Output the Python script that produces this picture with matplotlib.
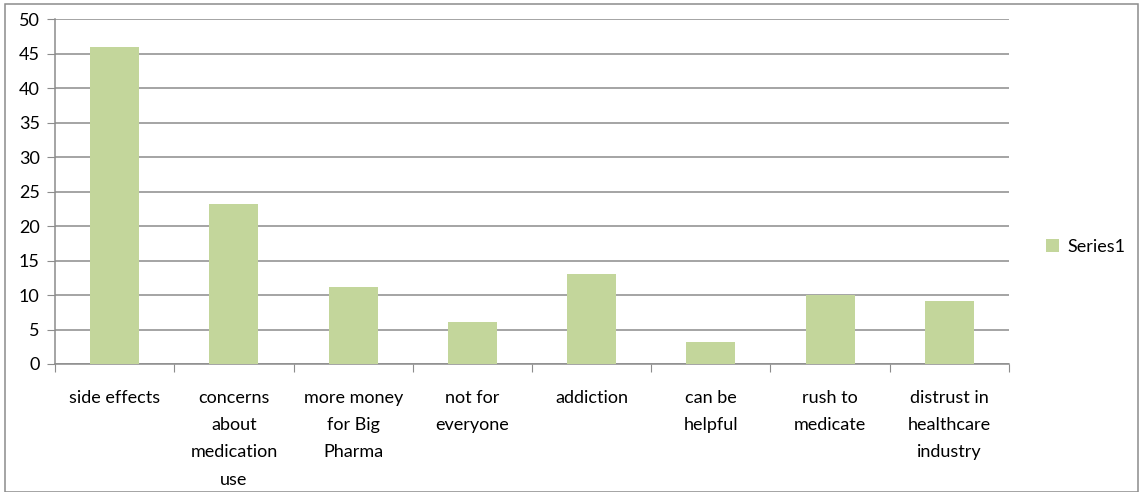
import matplotlib
matplotlib.use("Agg")
from matplotlib import pyplot as plt
from matplotlib.patches import Rectangle

# Chart data
categories = ["side effects", "concerns\nabout\nmedication\nuse", "more money\nfor Big\nPharma",
              "not for\neveryone", "addiction", "can be\nhelpful", "rush to\nmedicate",
              "distrust in\nhealthcare\nindustry"]
values = [46, 23.2, 11.1, 6.1, 13.0, 3.2, 10.0, 9.1]
yticks = [0, 5, 10, 15, 20, 25, 30, 35, 40, 45, 50]

plt.rcParams['font.family'] = ['Lato', 'DejaVu Sans']

fig = plt.figure(figsize=(11.39, 4.92), dpi=100)
ax = fig.add_axes([55/1139, 1-364/492, (1009-55)/1139, (364-19)/492])

pos = list(range(len(categories)))
ax.bar(pos, values, width=0.41, color="#C3D69B", label="Series1", zorder=3)

ax.set_xlim(-0.5, len(categories) - 0.5)
ax.set_ylim(0, 50)
ax.set_yticks(yticks)
ax.grid(axis="y", color="#8c8c8c", linewidth=1.1, zorder=0)

# boundaries as major ticks, labels on minor ticks at centres
ax.set_xticks([i - 0.5 for i in range(len(categories) + 1)])
ax.set_xticklabels([])
ax.set_xticks(pos, minor=True)
ax.set_xticklabels(categories, minor=True, fontsize=13, linespacing=1.85, va="top")
ax.tick_params(axis="x", which="minor", length=0, pad=19)
ax.tick_params(axis="x", which="major", length=6, color="#8c8c8c", direction="out")
ax.tick_params(axis="y", length=6, color="#8c8c8c", labelsize=13, pad=5)

for s in ["top", "right"]:
    ax.spines[s].set_visible(False)
for s in ["left", "bottom"]:
    ax.spines[s].set_color("#8c8c8c")
    ax.spines[s].set_linewidth(1.1)

fig.legend(loc="center left", bbox_to_anchor=(1030/1139, 1-247/492), frameon=False,
           fontsize=13, handlelength=0.7, handleheight=0.7, handletextpad=0.5)

fig.patches.append(Rectangle((5/1139, 0), 1 - 5/1139 - 0.001, 1 - 4/492 - 0.001,
                             transform=fig.transFigure, fill=False,
                             edgecolor="#8c8c8c", linewidth=1.1))

fig.savefig("out.png", dpi=100)
